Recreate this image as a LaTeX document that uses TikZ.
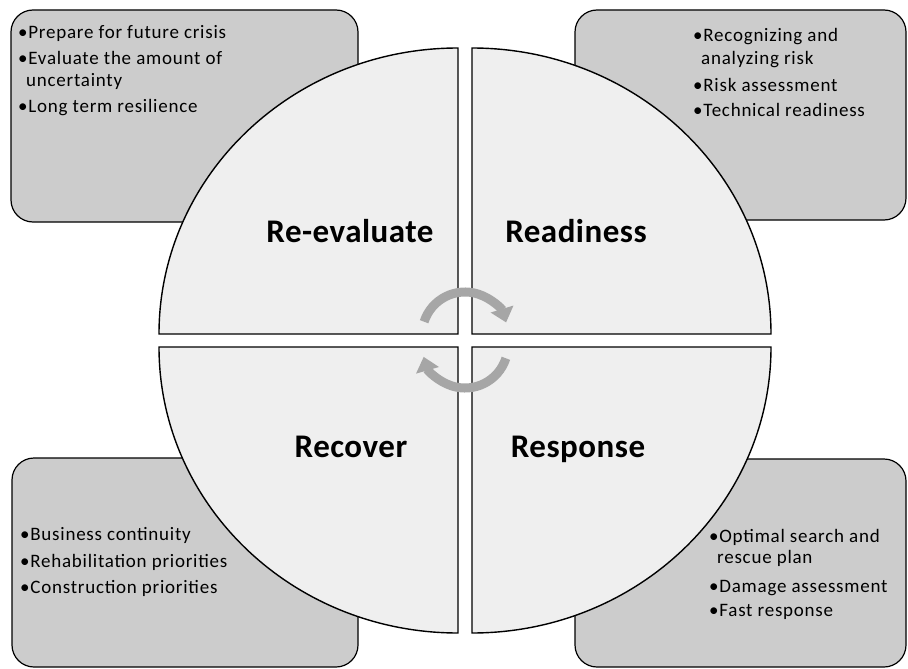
\documentclass[tikz,border=0pt]{standalone}
\usepackage{fontspec}
\setmainfont{Carlito}[LetterSpace=4]
\newfontfamily\titlefamily{Carlito}[LetterSpace=1.5]
\usetikzlibrary{arrows.meta}
\definecolor{boxgray}{HTML}{CCCCCC}
\definecolor{quadfill}{HTML}{EFEFEF}
\definecolor{arrowgray}{HTML}{A6A6A6}
\begin{document}
\begin{tikzpicture}[x=1pt,y=1pt,
  infobox/.style={draw=black, line width=1.2pt, fill=boxgray, rounded corners=22pt},
  quad/.style={draw=black, line width=1.4pt, fill=quadfill},
  itemtext/.style={anchor=base west, inner sep=0pt, font=\fontsize{19}{22}\selectfont},
  title/.style={anchor=base, inner sep=0pt, font=\titlefamily\fontsize{33}{38}\selectfont\bfseries},
  cyclearrow/.style={draw=arrowgray, line width=9pt, -{Triangle[width=23pt,length=14pt]}}]
\useasboundingbox (0,0) rectangle (908,-669);
% info boxes
\draw[infobox] (11,-10) rectangle (358,-222);
\draw[infobox] (575,-10) rectangle (906,-220);
\draw[infobox] (12,-458) rectangle (358,-667);
\draw[infobox] (575,-459) rectangle (906,-667);
% quadrants
\draw[quad] (458,-334) -- (159,-334) arc[start angle=180,end angle=90,x radius=299pt,y radius=286pt] -- cycle;
\draw[quad] (472,-334) -- (472,-48) arc[start angle=90,end angle=0,x radius=299pt,y radius=286pt] -- cycle;
\draw[quad] (458,-347) -- (458,-633) arc[start angle=270,end angle=180,x radius=299pt,y radius=286pt] -- cycle;
\draw[quad] (472,-347) -- (771,-347) arc[start angle=0,end angle=-90,x radius=299pt,y radius=286pt] -- cycle;
% titles
\node[title] (reeval) at (350,-242) {Re-evaluate};
\node[title] (ready) at (576,-242) {Readiness};
\node[title] (recover) at (351,-457) {Recover};
\node[title] (resp) at (578,-457) {Response};
% cycle arrows
\coordinate (topc) at (465,-335);
\coordinate (botc) at (465,-345);
\draw[cyclearrow] ([shift={(162:43pt)}]topc) arc[start angle=162,end angle=17,radius=43pt];
\draw[cyclearrow] ([shift={(-18:43pt)}]botc) arc[start angle=-18,end angle=-164,radius=43pt];
% top-left text
\node[itemtext] (tl1) at (18,-39) {•Prepare for future crisis};
\node[itemtext] (tl2) at (18,-65) {•Evaluate the amount of};
\node[itemtext] (tl3) at (26,-87) {uncertainty};
\node[itemtext] (tl4) at (18,-113) {•Long term resilience};
% top-right text
\node[itemtext] (tr1) at (693,-42) {•Recognizing and};
\node[itemtext] (tr2) at (701,-65) {analyzing risk};
\node[itemtext] (tr3) at (693,-92) {•Risk assessment};
\node[itemtext] (tr4) at (693,-117) {•Technical readiness};
% bottom-left text
\node[itemtext] (bl1) at (20,-540) {•Business continuity};
\node[itemtext] (bl2) at (20,-567) {•Rehabilitation priorities};
\node[itemtext] (bl3) at (20,-593) {•Construction priorities};
% bottom-right text
\node[itemtext] (br1) at (709,-542) {•Optimal search and};
\node[itemtext] (br2) at (717,-563) {rescue plan};
\node[itemtext] (br3) at (709,-592) {•Damage assessment};
\node[itemtext] (br4) at (709,-616) {•Fast response};
\end{tikzpicture}
\end{document}
